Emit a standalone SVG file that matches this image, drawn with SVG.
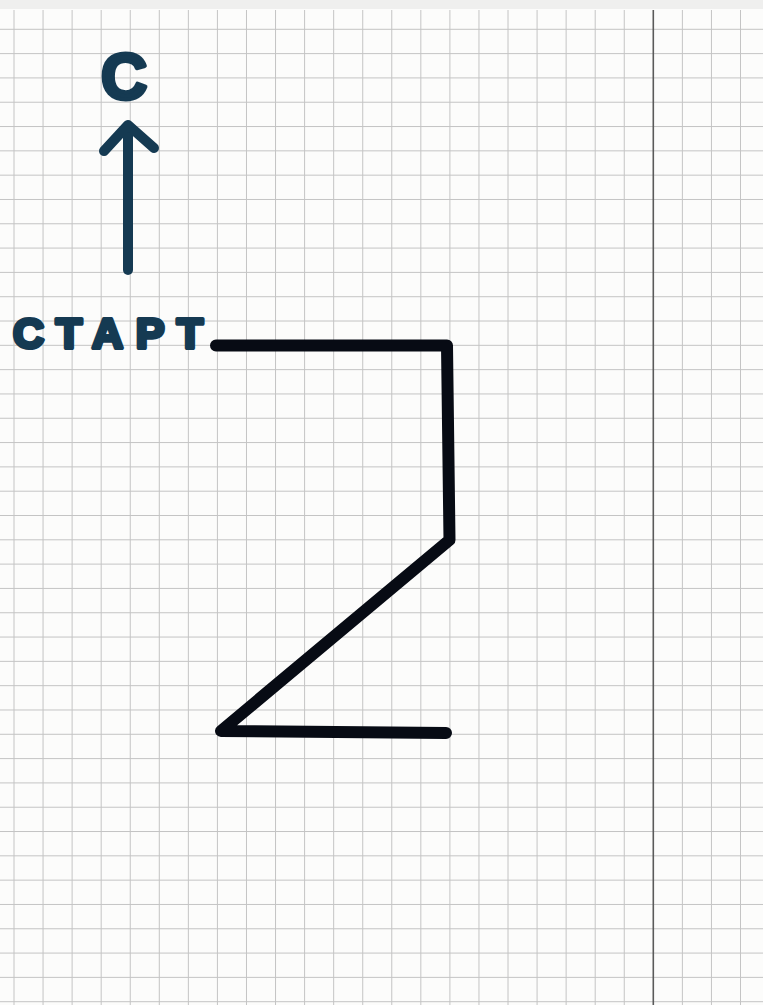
<svg xmlns="http://www.w3.org/2000/svg" width="763" height="1005" viewBox="0 0 763 1005">
<style>
.grid{stroke:#c4c4c4;stroke-width:1;fill:none}
.margin{stroke:#5a5a5a;stroke-width:1.6;fill:none}
.route{stroke:#070b14;stroke-width:12;fill:none;stroke-linecap:round;stroke-linejoin:round}
.ink{stroke:#153a52;fill:none;stroke-linecap:round;stroke-linejoin:round}
.lbl{font-family:"Liberation Sans",Arial,sans-serif;font-weight:bold;fill:#153a52;stroke:#153a52;stroke-linejoin:round}
</style>
<rect x="0" y="0" width="763" height="1005" fill="#fcfcfb"/>
<rect x="0" y="0" width="763" height="9" fill="#efefee"/>
<g id="paper">
<path class="grid" d="M14 10V1005M43.06 10V1005M72.12 10V1005M101.18 10V1005M130.24 10V1005M159.3 10V1005M188.36 10V1005M217.42 10V1005M246.48 10V1005M275.54 10V1005M304.6 10V1005M333.66 10V1005M362.72 10V1005M391.78 10V1005M420.84 10V1005M449.9 10V1005M478.96 10V1005M508.02 10V1005M537.08 10V1005M566.14 10V1005M595.2 10V1005M624.26 10V1005M682.38 10V1005M711.44 10V1005M740.5 10V1005
M0 29.3H763M0 53.61H763M0 77.92H763M0 102.23H763M0 126.54H763M0 150.85H763M0 175.16H763M0 199.47H763M0 223.78H763M0 248.09H763M0 272.4H763M0 296.71H763M0 321.02H763M0 345.33H763M0 369.64H763M0 393.95H763M0 418.26H763M0 442.57H763M0 466.88H763M0 491.19H763M0 515.5H763M0 539.81H763M0 564.12H763M0 588.43H763M0 612.74H763M0 637.05H763M0 661.36H763M0 685.67H763M0 709.98H763M0 734.29H763M0 758.6H763M0 782.91H763M0 807.22H763M0 831.53H763M0 855.84H763M0 880.15H763M0 904.46H763M0 928.77H763M0 953.08H763M0 977.39H763M0 1001.7H763"/>
<path class="margin" d="M653.3 10V1005"/>
</g>
<g id="north">
<text class="lbl" x="124" y="99" font-size="64" text-anchor="middle" stroke-width="4">С</text>
<path class="ink" stroke-width="10" d="M128 270V127"/>
<path class="ink" stroke-width="10" d="M104 151L128 125L154 148"/>
</g>
<g id="start">
<text class="lbl" x="13" y="348" font-size="43" stroke-width="4" textLength="190" lengthAdjust="spacing">СТАРТ</text>
</g>
<g id="route">
<path class="route" d="M216 345.5H447L449.5 540L221 731L446 733"/>
</g>
</svg>
